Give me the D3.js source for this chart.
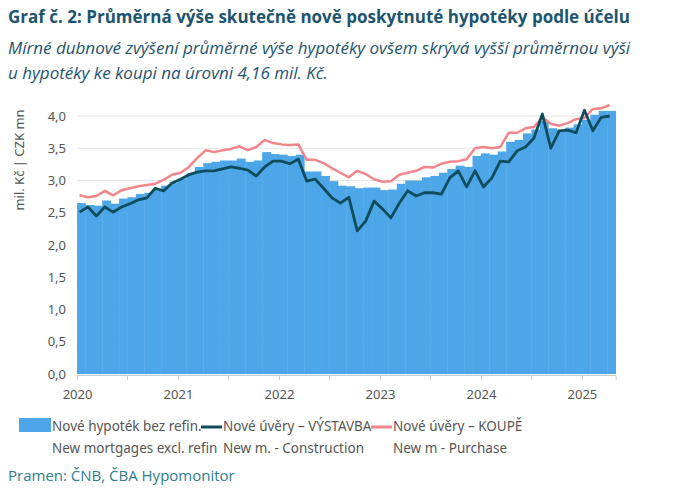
<!DOCTYPE html>
<html>
<head>
<meta charset="utf-8">
<script src="https://cdn.jsdelivr.net/npm/d3@7"></script>
<style>
  body { margin: 0; background: #fff; }
  .narrow { font-family: "Liberation Sans Narrow", "Open Sans", sans-serif; }
  .tick text { font-family: "Noto Sans", sans-serif; font-size: 13px; fill: #555; }
</style>
</head>
<body>
<svg id="chart" width="674" height="493"></svg>
<script>
// monthly values, Jan 2020 – Apr 2025 (mil. Kč)
const startYear = 2020;
const allNew = [2.65,2.62,2.61,2.69,2.64,2.72,2.74,2.79,2.81,2.87,2.92,2.97,
  3.03,3.11,3.21,3.27,3.29,3.31,3.31,3.34,3.29,3.31,3.44,3.41,
  3.40,3.38,3.40,3.14,3.14,3.07,2.99,2.92,2.91,2.88,2.89,2.89,
  2.85,2.86,2.95,3.00,3.00,3.05,3.07,3.12,3.18,3.23,3.21,3.38,
  3.42,3.40,3.45,3.60,3.63,3.73,3.79,3.92,3.81,3.79,3.82,3.87,
  3.94,4.02,4.08,4.08];
const construction = [2.51,2.59,2.45,2.59,2.51,2.59,2.64,2.70,2.73,2.88,2.84,2.96,
  3.02,3.09,3.13,3.15,3.15,3.18,3.21,3.19,3.16,3.07,3.21,3.30,
  3.30,3.26,3.33,2.99,3.02,2.88,2.73,2.65,2.74,2.22,2.37,2.68,
  2.56,2.42,2.65,2.84,2.76,2.81,2.81,2.79,3.04,3.15,2.90,3.15,
  2.90,3.04,3.30,3.29,3.46,3.52,3.66,4.03,3.50,3.77,3.78,3.74,
  4.09,3.77,3.98,4.00];
const purchase = [2.77,2.74,2.76,2.84,2.77,2.85,2.88,2.91,2.93,2.95,3.01,3.09,
  3.12,3.21,3.35,3.47,3.44,3.47,3.49,3.53,3.47,3.52,3.63,3.58,
  3.56,3.55,3.56,3.32,3.32,3.27,3.19,3.12,3.05,3.15,3.10,3.02,
  2.98,2.99,3.09,3.12,3.15,3.21,3.20,3.26,3.29,3.30,3.33,3.50,
  3.52,3.50,3.52,3.74,3.74,3.81,3.83,3.98,3.88,3.85,3.89,3.95,
  3.97,4.11,4.12,4.17];
const yTicks = [0,0.5,1,1.5,2,2.5,3,3.5,4];
const years = [2020,2021,2022,2023,2024,2025];

const svg = d3.select('#chart');
const x = d3.scaleLinear().domain([0, 64]).range([77, 615.6]);   // month index
const y = d3.scaleLinear().domain([0, 4]).range([374, 116]);
const fmt = d3.format('.1f');

// titles
svg.append('text').attr('class', 'narrow').attr('x', 8).attr('y', 23)
  .attr('font-size', 17).attr('font-weight', 'bold').attr('fill', '#1d5470')
  .text('Graf č. 2: Průměrná výše skutečně nově poskytnuté hypotéky podle účelu');
const sub = svg.append('text').attr('class', 'narrow').attr('font-size', 17)
  .attr('font-style', 'italic').attr('fill', '#1d5470');
sub.append('tspan').attr('x', 8).attr('y', 54)
  .text('Mírné dubnové zvýšení průměrné výše hypotéky ovšem skrývá vyšší průměrnou výši');
sub.append('tspan').attr('x', 8).attr('y', 79)
  .text('u hypotéky ke koupi na úrovni 4,16 mil. Kč.');

// grid
svg.append('g').selectAll('line').data(yTicks.slice(1)).join('line')
  .attr('x1', 77).attr('x2', 617).attr('y1', d => y(d)).attr('y2', d => y(d))
  .attr('stroke', '#e6e6e6').attr('stroke-width', 1);

// bars
svg.append('g').selectAll('rect').data(allNew).join('rect')
  .attr('x', (d, i) => x(i)).attr('width', x(1) - x(0) + 0.4)
  .attr('y', d => y(d)).attr('height', d => y(0) - y(d))
  .attr('fill', '#4da6e8');

// lines
const line = d3.line().x((d, i) => x(i + 0.3)).y(d => y(d));
svg.append('path').datum(purchase).attr('d', line).attr('fill', 'none')
  .attr('stroke', '#f2868b').attr('stroke-width', 2.5).attr('stroke-linejoin', 'round');
svg.append('path').datum(construction).attr('d', line).attr('fill', 'none')
  .attr('stroke', '#0f4c5c').attr('stroke-width', 2.8).attr('stroke-linejoin', 'round');

// y axis
const yAxis = svg.append('g').attr('transform', 'translate(70,0)')
  .call(d3.axisLeft(y).tickValues(yTicks).tickFormat(d => fmt(d).replace('.', ',')).tickSize(0).tickPadding(4));
yAxis.select('.domain').remove();
svg.append('text').attr('transform', 'translate(24,160) rotate(-90)')
  .attr('text-anchor', 'middle').attr('font-family', 'Noto Sans, sans-serif')
  .attr('font-size', 13).attr('fill', '#555').text('mil. Kč  |  CZK mn');

// x axis
const xAxis = svg.append('g').attr('transform', 'translate(0,375)')
  .call(d3.axisBottom(x).tickValues(years.map(yr => (yr - startYear) * 12))
    .tickFormat((d, i) => years[i]).tickSize(5).tickPadding(10));
xAxis.select('.domain').attr('stroke', '#ccc');
xAxis.selectAll('.tick line').attr('stroke', '#ccc');
svg.append('g').selectAll('line').data(d3.range(6, 64, 12)).join('line')
  .attr('x1', d => x(d)).attr('x2', d => x(d)).attr('y1', 375).attr('y2', 380)
  .attr('stroke', '#ccc');

// legend
const lg = svg.append('g').attr('font-family', 'Noto Sans, sans-serif')
  .attr('font-size', 13.5).attr('fill', '#555');
lg.append('rect').attr('x', 19).attr('y', 418).attr('width', 32).attr('height', 14).attr('fill', '#4da6e8');
lg.append('line').attr('x1', 201).attr('x2', 222).attr('y1', 427).attr('y2', 427).attr('stroke', '#0f4c5c').attr('stroke-width', 3);
lg.append('line').attr('x1', 371).attr('x2', 392).attr('y1', 427).attr('y2', 427).attr('stroke', '#f2868b').attr('stroke-width', 3);
const legTexts = [
  [52, 'Nové hypoték bez refin.', 'New mortgages excl. refin'],
  [223, 'Nové úvěry – VÝSTAVBA', 'New m. - Construction'],
  [393, 'Nové úvěry – KOUPĚ', 'New m - Purchase']
];
legTexts.forEach(([lx, a, b]) => {
  lg.append('text').attr('x', lx).attr('y', 431).text(a);
  lg.append('text').attr('x', lx).attr('y', 453).text(b);
});

svg.append('text').attr('class', 'narrow').attr('x', 8).attr('y', 481)
  .attr('font-size', 15).attr('fill', '#2e7d8c').text('Pramen: ČNB, ČBA Hypomonitor');
</script>
</body>
</html>
